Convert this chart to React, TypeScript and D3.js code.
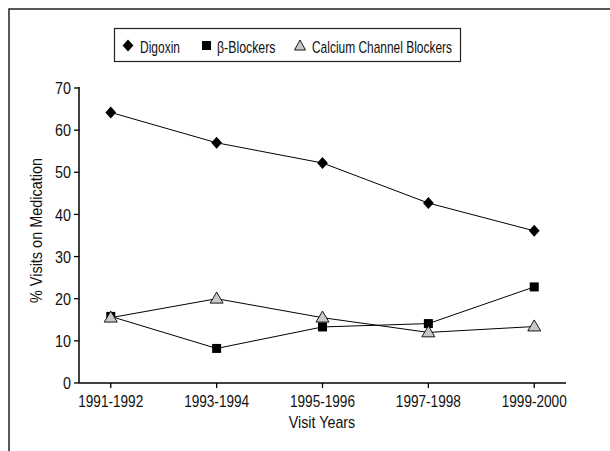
import React from "react";
import * as d3 from "d3";

const categories = ["1991-1992", "1993-1994", "1995-1996", "1997-1998", "1999-2000"];
const digoxin = [64.2, 57.0, 52.2, 42.7, 36.1];
const betaBlockers = [15.8, 8.2, 13.3, 14.1, 22.8];
const calciumChannelBlockers = [15.5, 20.0, 15.5, 12.0, 13.4];
const yTicks = [0, 10, 20, 30, 40, 50, 60, 70];
const seriesNames = ["Digoxin", "β-Blockers", "Calcium Channel Blockers"];

const FONT = "'Liberation Sans', Arial, sans-serif";

function NText(props: { x: number; y: number; len: number; size?: number; anchor?: string; dy?: string; children: React.ReactNode; transform?: string }) {
  const { x, y, len, size = 17, anchor = "start", dy, children, transform } = props;
  return (
    <text x={x} y={y} dy={dy} textAnchor={anchor} fontSize={size} fill="#111" textLength={len} lengthAdjust="spacingAndGlyphs" transform={transform}>
      {children}
    </text>
  );
}

export default function App() {
  const W = 610, H = 451;
  const x0 = 79, x1 = 566, yTop = 88, yBot = 383;
  const x = d3.scalePoint<string>().domain(categories).range([x0, x1]).padding(0.3);
  const y = d3.scaleLinear().domain([0, 70]).range([yBot, yTop]);
  const line = d3.line<number>().x((_, i) => x(categories[i])!).y((d) => y(d));

  const diamond = (cx: number, cy: number, r: number) =>
    `M${cx},${cy - r}L${cx + r * 0.9},${cy}L${cx},${cy + r}L${cx - r * 0.9},${cy}Z`;
  const tri = (cx: number, cy: number, w: number, h: number) =>
    `M${cx},${cy - h * 0.6}L${cx + w / 2},${cy + h * 0.4}L${cx - w / 2},${cy + h * 0.4}Z`;

  return (
    <svg width={W} height={H} style={{ position: "absolute", left: 0, top: 0, background: "#fff" }} fontFamily={FONT}>
      <rect x={9} y={9} width={700} height={600} fill="none" stroke="#222" strokeWidth={1.5} />

      {/* legend */}
      <rect x={114.5} y={28.5} width={346} height={33} fill="#fff" stroke="#222" strokeWidth={1.2} />
      <path d={diamond(128, 45.5, 6)} fill="#000" />
      <NText x={140} y={53} len={40}>{seriesNames[0]}</NText>
      <rect x={202} y={41} width={9} height={9} fill="#000" />
      <NText x={217} y={53} len={58.5}>{seriesNames[1]}</NText>
      <path d={tri(300, 46, 11, 10)} fill="#c8c8c8" stroke="#000" strokeWidth={0.9} />
      <NText x={312} y={53} len={140}>{seriesNames[2]}</NText>

      {/* axes */}
      <line x1={x0} y1={yTop - 1} x2={x0} y2={yBot} stroke="#000" strokeWidth={1.5} />
      <line x1={x0} y1={yBot} x2={x1} y2={yBot} stroke="#000" strokeWidth={1.5} />
      {yTicks.map((t) => (
        <g key={t}>
          <line x1={x0 - 5} x2={x0} y1={y(t)} y2={y(t)} stroke="#000" strokeWidth={1.3} />
          <NText x={x0 - 8} y={y(t)} dy="0.36em" anchor="end" len={String(t).length * 8}>{t}</NText>
        </g>
      ))}
      {categories.map((c) => (
        <g key={c}>
          <line x1={x(c)} x2={x(c)} y1={yBot} y2={yBot + 5} stroke="#000" strokeWidth={1.3} />
          <NText x={x(c)!} y={406.5} anchor="middle" len={65}>{c}</NText>
        </g>
      ))}
      <NText x={322} y={428} anchor="middle" len={66.5}>Visit Years</NText>
      <NText x={0} y={0} anchor="middle" len={145} transform={`translate(42,230.5) rotate(-90)`}>% Visits on Medication</NText>

      {/* lines */}
      <path d={line(digoxin)!} fill="none" stroke="#000" strokeWidth={1} />
      <path d={line(betaBlockers)!} fill="none" stroke="#000" strokeWidth={1} />
      <path d={line(calciumChannelBlockers)!} fill="none" stroke="#000" strokeWidth={1} />

      {digoxin.map((v, i) => (
        <path key={"d" + i} d={diamond(x(categories[i])!, y(v), 6)} fill="#000" />
      ))}
      {betaBlockers.map((v, i) => (
        <rect key={"b" + i} x={x(categories[i])! - 4.5} y={y(v) - 4.5} width={9} height={9} fill="#000" />
      ))}
      {calciumChannelBlockers.map((v, i) => (
        <path key={"c" + i} d={tri(x(categories[i])!, y(v), 13, 11)} fill="#c8c8c8" stroke="#000" strokeWidth={0.9} />
      ))}
    </svg>
  );
}
